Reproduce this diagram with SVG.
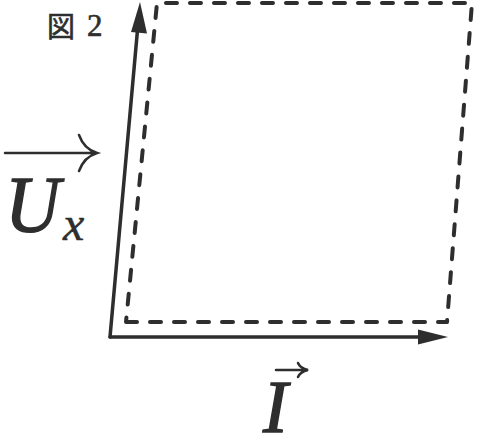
<svg xmlns="http://www.w3.org/2000/svg" width="478" height="436" viewBox="0 0 478 436">
<defs>
<style>
.axis{stroke:#2e2e2e;stroke-width:3.5;fill:none;stroke-linecap:round}
.dash{stroke:#2e2e2e;stroke-width:4;fill:none;stroke-dasharray:11 13;stroke-linecap:round;stroke-linejoin:round}
.head{fill:#2e2e2e}
.vec{stroke:#2e2e2e;stroke-width:2.5;fill:none;stroke-linecap:round}
.math{font-family:"Liberation Serif",serif;font-style:italic;fill:#2e2e2e;stroke:#2e2e2e;stroke-width:1.4}
.sub{font-family:"Liberation Serif",serif;font-style:italic;fill:#2e2e2e;stroke:#2e2e2e;stroke-width:0.5}
.cap{font-family:"Noto Sans CJK JP","Liberation Serif",serif;fill:#2e2e2e;stroke:#2e2e2e;stroke-width:0.6}
.num{font-family:"Liberation Serif",serif;fill:#2e2e2e;stroke:#2e2e2e;stroke-width:0.6}
</style>
</defs>
<g id="title">
<text class="cap" x="47" y="37" font-size="28">図</text>
<text class="num" x="87" y="36" font-size="31">2</text>
</g>
<g id="region">
<path class="dash" d="M126,322 L447,322 L472,3 L157,3 Z"/>
</g>
<g id="connectors">
<path class="axis" d="M110,337 L420,337"/>
<polygon class="head" points="448,337 418,329.5 418,344.5"/>
<path class="axis" d="M110,337 L137.5,30"/>
<polygon class="head" points="140,2 131,32 147,33.5"/>
</g>
<g id="label-Ux">
<path class="vec" d="M5,153 L96,153 M79,135 Q84,149 97,153 Q84,157 79,171"/>
<text class="math" x="5" y="232" font-size="80" textLength="55" lengthAdjust="spacingAndGlyphs">U</text>
<text class="sub" x="63" y="240" font-size="48">x</text>
</g>
<g id="label-I">
<path class="vec" d="M276,370 L307,370 M298,363 Q300,368 308,370 Q300,372 298,377"/>
<text class="math" x="263" y="432" font-size="74">I</text>
</g>
</svg>
